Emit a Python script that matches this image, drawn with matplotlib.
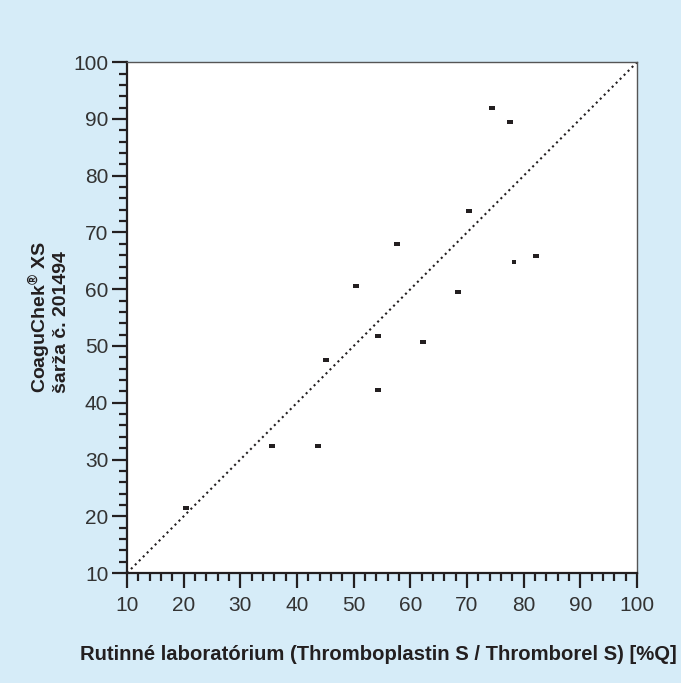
import matplotlib
matplotlib.use("Agg")
import matplotlib.pyplot as plt
from matplotlib.ticker import MultipleLocator

plt.rcParams['font.family'] = ['Liberation Sans', 'DejaVu Sans']
plt.rcParams['mathtext.fontset'] = 'custom'
plt.rcParams['mathtext.rm'] = 'Liberation Sans'
plt.rcParams['mathtext.bf'] = 'Liberation Sans:bold'

# Routine lab (x) vs CoaguChek XS (y), %Q
routine = [20.4, 35.6, 43.7, 45.1, 50.4, 54.3, 54.3, 57.6, 62.2, 68.4, 70.3, 74.4, 77.6, 78.3, 82.2]
coaguchek = [21.4, 32.4, 32.4, 47.5, 60.5, 51.7, 42.2, 67.9, 50.7, 59.5, 73.7, 92.0, 89.4, 64.8, 65.8]
small_point = [False] * 13 + [True, False]

ticks = [10, 20, 30, 40, 50, 60, 70, 80, 90, 100]
ink = '#231f20'
bg = '#d6ecf8'

fig = plt.figure(figsize=(6.81, 6.83), dpi=100)
fig.patch.set_facecolor(bg)
ax = fig.add_axes([0.1865, 0.161, 0.749, 0.748])
ax.set_facecolor('white')

# identity line
ax.plot([10, 100], [10, 100], linestyle=(0, (1, 1.7)), color=ink, lw=1.5, zorder=2)

dash = [(-1, -0.5), (1, -0.5), (1, 0.5), (-1, 0.5)]
for x, y, sm in zip(routine, coaguchek, small_point):
    ax.plot(x, y, marker='s' if sm else dash, markersize=2.2 if sm else 4.4,
            color=ink, markeredgewidth=0, linestyle='none', zorder=3)

ax.set_xlim(10, 100)
ax.set_ylim(10, 100)
ax.set_xticks(ticks)
ax.set_yticks(ticks)
ax.xaxis.set_minor_locator(MultipleLocator(2))
ax.yaxis.set_minor_locator(MultipleLocator(2))
ax.tick_params(which='major', direction='out', length=10.5, width=1.6, color=ink,
               labelsize=15, labelcolor='#333333')
ax.tick_params(which='minor', direction='out', length=5.5, width=1.6, color=ink)
ax.tick_params(axis='x', which='major', pad=6)
ax.tick_params(axis='y', which='major', pad=3)

for s in ['left', 'bottom']:
    ax.spines[s].set_linewidth(1.6)
    ax.spines[s].set_color(ink)
for s in ['top', 'right']:
    ax.spines[s].set_linewidth(1)
    ax.spines[s].set_color('#555555')

fig.text(0.1175, 0.041, 'Rutinné laboratórium (Thromboplastin S / Thromborel S) [%Q]',
         ha='left', va='center', fontsize=14.6, fontweight='bold', color=ink)
fig.text(0.058, 0.4246, r'CoaguChek$^{\mathbf{®}}$ XS', rotation=90, ha='center', va='bottom',
         fontsize=14, fontweight='bold', color=ink)
fig.text(0.091, 0.4246, 'šarža č. 201494', rotation=90, ha='center', va='bottom',
         fontsize=14, fontweight='bold', color=ink)

fig.savefig('out.png', dpi=100, facecolor=bg)
